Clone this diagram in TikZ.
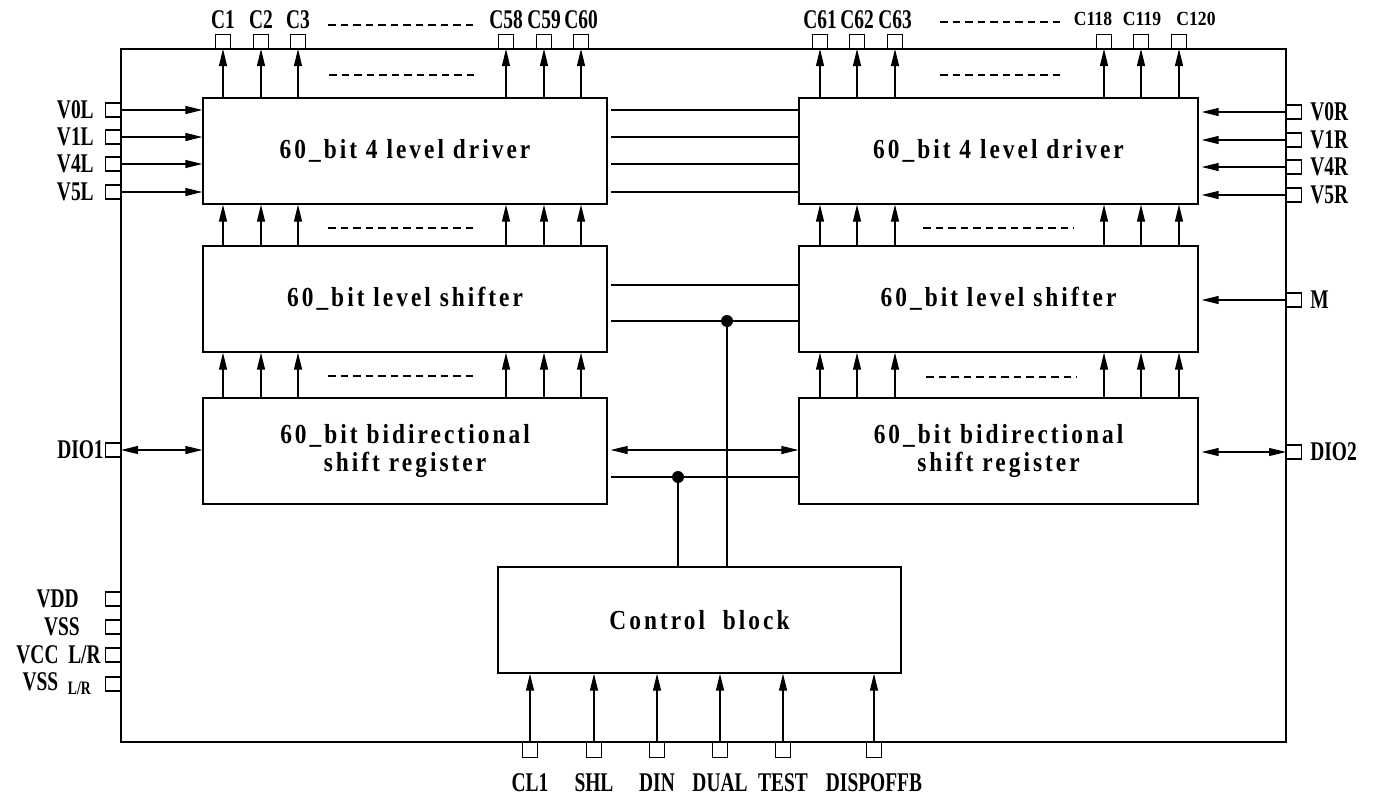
\documentclass[tikz,border=0pt]{standalone}
\usepackage{fontspec}
\setmainfont{Liberation Serif}
\newfontfamily\pinf[FakeStretch=0.72]{Liberation Serif}
\newfontfamily\pinsmall[FakeStretch=0.88]{Liberation Serif}
\newfontfamily\blkf[FakeStretch=0.85,LetterSpace=11]{Liberation Serif}
\usetikzlibrary{arrows.meta}
\tikzset{
  tri/.tip={Triangle[length=17pt,width=8pt]},
  frm/.style={line width=2.4pt},
  blk/.style={draw, line width=1.3pt, minimum width=404pt, minimum height=106pt, inner sep=0pt,
              font=\blkf\bfseries\fontsize{27.5}{28}\selectfont, align=center},
  pin/.style={draw, line width=1.1pt, minimum width=15pt, minimum height=14pt, inner sep=0pt},
  plab/.style={inner sep=0pt, font=\pinf\bfseries\fontsize{27}{27}\selectfont},
  slab/.style={inner sep=0pt, font=\pinsmall\bfseries\fontsize{20}{20}\selectfont},
  arr/.style={line width=1.1pt, -tri},
  darr/.style={line width=1.1pt, tri-tri},
  wire/.style={line width=1.1pt},
  dsh/.style={line width=1.6pt, dash pattern=on 7.5pt off 5pt},
  dot/.style={circle, fill, inner sep=0pt, minimum size=12pt}
}
\begin{document}
\begin{tikzpicture}[x=1pt,y=-1pt]
\useasboundingbox (0,0) rectangle (1375,796);
% frame
\draw[frm] (121,49) rectangle (1286,742);
% blocks
\node[blk] (dL) at (405,151) {60\_bit 4 level driver};
\node[blk, minimum width=399pt] (dR) at (998.5,151) {60\_bit 4 level driver};
\node[blk] (sL) at (405,299) {60\_bit level shifter};
\node[blk, minimum width=399pt] (sR) at (998.5,299) {60\_bit level shifter};
\node[blk] (rL) at (405,451) {60\_bit bidirectional\\ shift register};
\node[blk, minimum width=399pt] (rR) at (998.5,451) {60\_bit bidirectional\\ shift register};
\node[blk, minimum width=403pt] (ctrl) at (699.5,620) {Control\ \ block};

% top pins
\foreach \n/\x/\t in {c1/223/C1, c2/261/C2, c3/298/C3, c58/506/C58, c59/544/C59, c60/581/C60,
                      c61/820/C61, c62/857/C62, c63/895/C63}{
  \node[pin, anchor=south] (\n) at (\x,49) {};
  \node[plab, anchor=base] at ([yshift=5pt]\n.north) {\t};
}
\foreach \n/\x/\dx/\t in {c118/1104/-11/C118, c119/1141/1/C119, c120/1179/17/C120}{
  \node[pin, anchor=south] (\n) at (\x,49) {};
  \node[slab, anchor=base] at ([xshift=\dx pt, yshift=8pt]\n.north) {\t};
}
% arrows driver -> pins, and between rows
\foreach \n in {c1,c2,c3,c58,c59,c60}{
  \draw[arr] (dL.north -| \n) -- (\n.south);
  \draw[arr] (sL.north -| \n) -- (dL.south -| \n);
  \draw[arr] (rL.north -| \n) -- (sL.south -| \n);
}
\foreach \n in {c61,c62,c63,c118,c119,c120}{
  \draw[arr] (dR.north -| \n) -- (\n.south);
  \draw[arr] (sR.north -| \n) -- (dR.south -| \n);
  \draw[arr] (rR.north -| \n) -- (sR.south -| \n);
}
% dashes
\draw[dsh] (328,25) -- (476,25);
\draw[dsh] (940,22) -- (1062,22);
\draw[dsh] (329,75) -- (479,75);
\draw[dsh] (940,75) -- (1062,75);
\draw[dsh] (328,228) -- (477,228);
\draw[dsh] (923,228) -- (1074,228);
\draw[dsh] (328,376) -- (477,376);
\draw[dsh] (926,377) -- (1077,377);

% left V pins
\foreach \n/\y/\t in {v0l/110/V0L, v1l/137/V1L, v4l/164/V4L, v5l/192/V5L}{
  \node[pin, anchor=east] (\n) at (121,\y) {};
  \node[plab, anchor=east] at ([xshift=-11pt]\n.west) {\t};
  \draw[arr] (\n.east) -- (dL.west |- \n);
}
% right V pins
\foreach \n/\y/\t in {v0r/112/V0R, v1r/140/V1R, v4r/167/V4R, v5r/195/V5R}{
  \node[pin, anchor=west] (\n) at (1286,\y) {};
  \node[plab, anchor=west] at ([xshift=8pt]\n.east) {\t};
  \draw[arr, shorten >=3pt] (\n.west) -- (dR.east |- \n);
}
% driver interconnects
\foreach \n in {v0l,v1l,v4l,v5l}{
  \draw[wire] ([xshift=3pt]dL.east |- \n) -- (dR.west |- \n);
}
% M
\node[pin, anchor=west] (m) at (1286,300) {};
\node[plab, anchor=west] at ([xshift=8pt]m.east) {M};
\draw[arr, shorten >=3pt] (m.west) -- (sR.east |- m);
% shifter interconnects
\coordinate (s1) at (0,285);
\coordinate (jA) at (727,321);
\draw[wire] ([xshift=3pt]sL.east |- s1) -- (sR.west |- s1);
\draw[wire] ([xshift=3pt]sL.east |- jA) -- (sR.west |- jA);
\node[dot] (dA) at (jA) {};
\draw[wire] (dA.center) -- (ctrl.north -| dA);
% DIO
\node[pin, anchor=east] (dio1) at (121,450) {};
\node[plab, anchor=east] at ([xshift=-1pt]dio1.west) {DIO1};
\draw[darr] (dio1.east) -- (rL.west |- dio1);
\node[pin, anchor=west] (dio2) at (1286,452) {};
\node[plab, anchor=west] at ([xshift=8pt]dio2.east) {DIO2};
\draw[darr, shorten >=3pt] (dio2.west) -- (rR.east |- dio2);
% register interconnects
\coordinate (r1) at (0,450);
\coordinate (jB) at (678,477);
\draw[darr] ([xshift=3pt]rL.east |- r1) -- (rR.west |- r1);
\draw[wire] ([xshift=3pt]rL.east |- jB) -- (rR.west |- jB);
\node[dot] (dB) at (jB) {};
\draw[wire] (dB.center) -- (ctrl.north -| dB);

% left power pins
\node[pin, anchor=east] (vdd) at (121,599) {};
\node[plab, anchor=east] at ([xshift=-26pt]vdd.west) {VDD};
\node[pin, anchor=east] (vss) at (121,627) {};
\node[plab, anchor=east] at ([xshift=-25pt]vss.west) {VSS};
\node[pin, anchor=east] (vcc) at (121,655) {};
\node[plab, anchor=east] at ([xshift=-4pt]vcc.west) {VCC\ \ L/R};
\node[pin, anchor=east] (vsslr) at (121,684) {};
\node[plab, anchor=east] at ([xshift=-14pt]vsslr.west) {VSS\ \ {\pinf\fontsize{19}{19}\selectfont\raisebox{-4pt}{L/R}}};

% bottom pins
\foreach \n/\x/\t in {cl1/530/CL1, shl/594/SHL, din/657/DIN, dual/720/DUAL, test/783/TEST, dispoffb/874/DISPOFFB}{
  \node[pin, anchor=north, minimum height=15pt] (\n) at (\x,742) {};
  \node[plab, anchor=base] at ([yshift=-33pt]\n.south) {\t};
  \draw[arr] (\n.north) -- (ctrl.south -| \n);
}
\end{tikzpicture}
\end{document}
